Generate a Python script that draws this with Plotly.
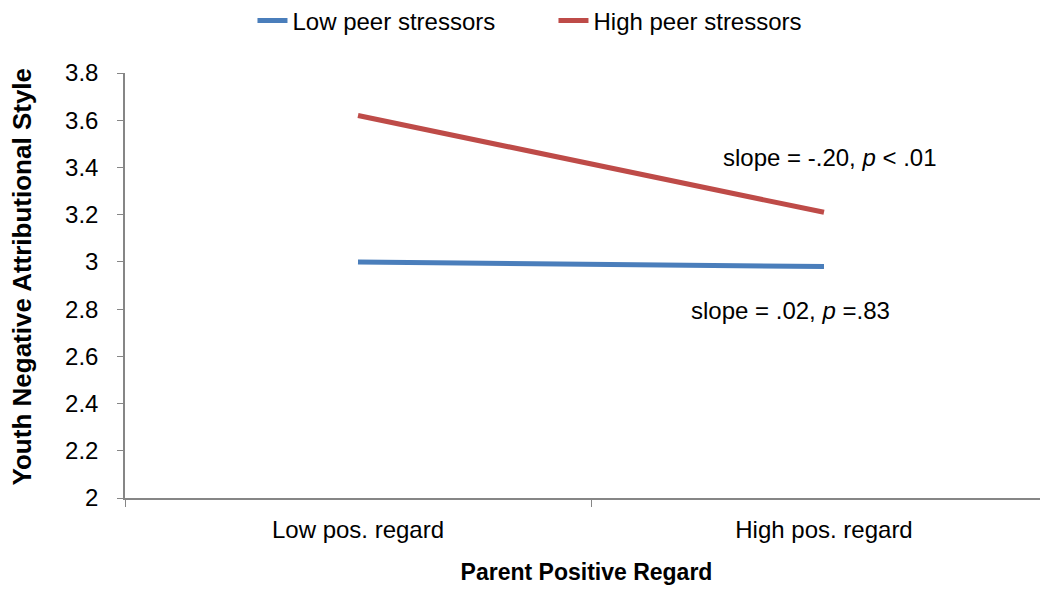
import plotly.graph_objects as go

categories = ["Low pos. regard", "High pos. regard"]
low_peer = [3.00, 2.98]
high_peer = [3.62, 3.21]
series_names = ["Low peer stressors", "High peer stressors"]
colors = ["#4a7ebb", "#be4b48"]

FONT = "Liberation Sans"
AXIS_GRAY = "#868686"

fig = go.Figure()
for name, vals, c in zip(series_names, [low_peer, high_peer], colors):
    fig.add_trace(go.Scatter(x=categories, y=vals, mode="lines", name=name,
                             line=dict(color=c, width=5)))

fig.add_annotation(x=categories[1], y=3.444, xref="x", yref="y",
                   text="slope = -.20, <i>p</i> &lt; .01", showarrow=False,
                   xshift=6, font=dict(family=FONT, size=24, color="black"))
fig.add_annotation(x=categories[1], y=2.796, xref="x", yref="y",
                   text="slope = .02, <i>p</i> =.83", showarrow=False,
                   xshift=-34, font=dict(family=FONT, size=24, color="black"))
# y-axis title
fig.add_annotation(x=0, y=0.519, xref="paper", yref="paper", xanchor="center",
                   yanchor="middle", xshift=-103, textangle=-90, showarrow=False,
                   text="<b>Youth Negative Attributional Style</b>",
                   font=dict(family=FONT, size=26, color="black"))

fig.update_layout(
    width=1040, height=582,
    margin=dict(l=117, r=0, t=65, b=92, pad=0),
    paper_bgcolor="white", plot_bgcolor="white",
    font=dict(family=FONT, size=24, color="black"),
    showlegend=True,
    legend=dict(orientation="h", xref="container", yref="container",
                x=0.5245, xanchor="center", y=0.978, yanchor="middle",
                font=dict(family=FONT, size=24), itemwidth=30,
                entrywidth=256, entrywidthmode="pixels",
                bgcolor="rgba(0,0,0,0)"),
    xaxis=dict(type="category", range=[-0.5, 1.4807], showline=True, linecolor=AXIS_GRAY,
               linewidth=1.5, ticks="outside", ticklen=7, tickcolor=AXIS_GRAY,
               tickson="boundaries", showgrid=False, zeroline=False,
               ticklabelstandoff=9,
               tickfont=dict(family=FONT, size=24),
               title=dict(text="<b>Parent Positive Regard</b>", standoff=22,
                          font=dict(family=FONT, size=23))),
    yaxis=dict(range=[2, 3.8], dtick=0.2, tick0=2, showline=True, linecolor=AXIS_GRAY,
               linewidth=1.5, ticks="outside", ticklen=6, tickcolor=AXIS_GRAY,
               showgrid=False, zeroline=False, ticklabelstandoff=14,
               tickfont=dict(family=FONT, size=24)),
)
fig.write_html("out.html")
